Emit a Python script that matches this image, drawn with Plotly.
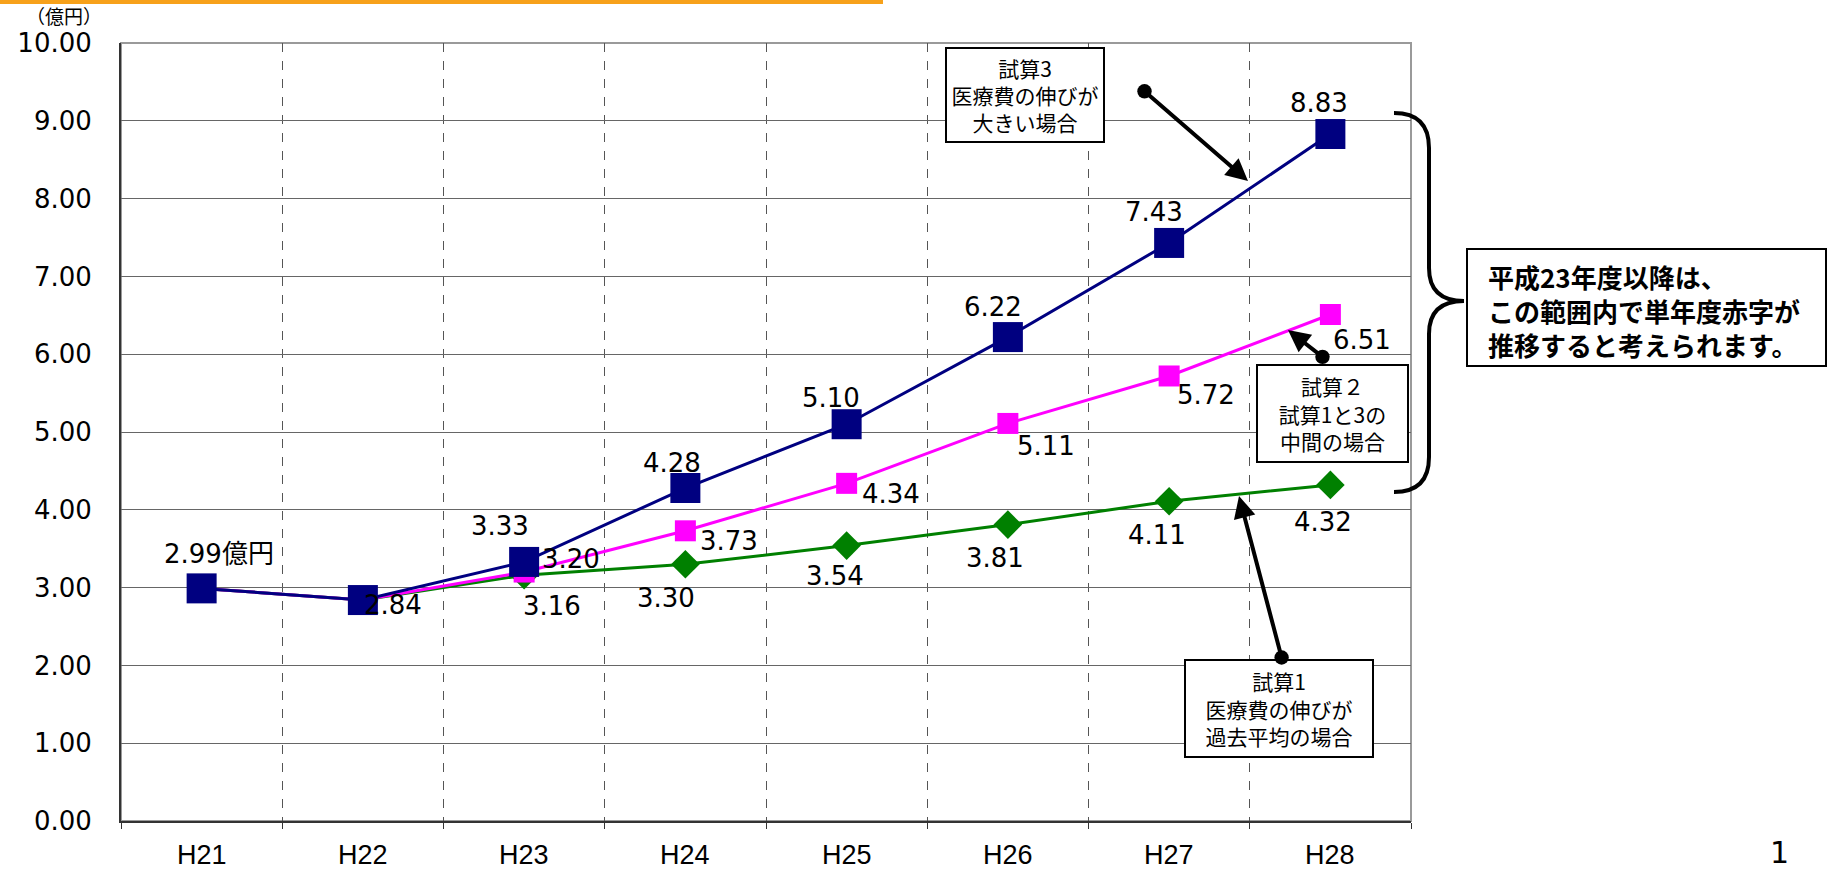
import plotly.graph_objects as go

# Fiscal years (Heisei) on the category axis
years = ["H21", "H22", "H23", "H24", "H25", "H26", "H27", "H28"]

# Single-year deficit projections (100 million yen)
case3_high = [2.99, 2.84, 3.33, 4.28, 5.10, 6.22, 7.43, 8.83]
case2_mid = [2.99, 2.84, 3.20, 3.73, 4.34, 5.11, 5.72, 6.51]
case1_avg = [2.99, 2.84, 3.16, 3.30, 3.54, 3.81, 4.11, 4.32]

# Text placed next to each point
case3_text = ["2.99億円", "2.84", "3.33", "4.28", "5.10", "6.22", "7.43", "8.83"]
case2_text = ["3.20", "3.73", "4.34", "5.11", "5.72", "6.51"]
case1_text = ["3.16", "3.30", "3.54", "3.81", "4.11", "4.32"]

JP = "Noto Sans CJK JP"
NUM = "DejaVu Sans, Noto Sans CJK JP"
NAVY, MAGENTA, GREEN = "#000080", "#FF00FF", "#008000"

# plot area in page pixels
L, R, T, B = 121, 1411, 43, 821
W, H = R - L, B - T


def px(x):
    return (x - L) / W


def py(y):
    return (B - y) / H


fig = go.Figure()
fig.add_trace(go.Scatter(x=years, y=case1_avg, mode="lines+markers",
                         line=dict(color=GREEN, width=3),
                         marker=dict(symbol="diamond", size=22, color=GREEN)))
fig.add_trace(go.Scatter(x=years, y=case2_mid, mode="lines+markers",
                         line=dict(color=MAGENTA, width=3),
                         marker=dict(symbol="square", size=21, color=MAGENTA)))
fig.add_trace(go.Scatter(x=years, y=case3_high, mode="lines+markers",
                         line=dict(color=NAVY, width=3),
                         marker=dict(symbol="square", size=30, color=NAVY)))

annotations = []

# point labels: (x shift, y shift) per point
case3_off = [(17, 34), (30, -5), (-24, 36), (-13, 25), (-16, 26), (-15, 30), (-15, 31), (-11, 31)]
case2_off = [(47, 13), (44, -10), (44, -11), (38, -23), (37, -19), (32, -25)]
case1_off = [(28, -31), (-19, -34), (-12, -30), (-13, -33), (-12, -34), (-7, -37)]
label_font = dict(size=26, color="black", family=NUM)

for i, (t, (dx, dy)) in enumerate(zip(case3_text, case3_off)):
    annotations.append(dict(x=years[i], y=case3_high[i], text=t, showarrow=False,
                            xshift=dx, yshift=dy, font=label_font))
for i, (t, (dx, dy)) in enumerate(zip(case2_text, case2_off)):
    annotations.append(dict(x=years[i + 2], y=case2_mid[i + 2], text=t, showarrow=False,
                            xshift=dx, yshift=dy, font=label_font))
for i, (t, (dx, dy)) in enumerate(zip(case1_text, case1_off)):
    annotations.append(dict(x=years[i + 2], y=case1_avg[i + 2], text=t, showarrow=False,
                            xshift=dx, yshift=dy, font=label_font))

# category names under the axis
for yr in years:
    annotations.append(dict(x=yr, xref="x", y=0, yref="paper", text=yr, showarrow=False,
                            xanchor="center", yanchor="middle", yshift=-34,
                            font=dict(size=27, family="Liberation Sans, Arial", color="black")))


def callout(cx, cy, w, h, text):
    return dict(xref="paper", yref="paper", x=px(cx), y=py(cy), text=text,
                xanchor="center", yanchor="middle",
                showarrow=False, width=w, height=h, bgcolor="white",
                bordercolor="black", borderwidth=2, borderpad=0, align="center",
                font=dict(size=21, color="black", family=JP))


annotations += [
    callout(1025, 95, 156, 92, "試算3<br>医療費の伸びが<br>大きい場合"),
    callout(1332, 413, 149, 95, "試算２<br>試算1と3の<br>中間の場合"),
    callout(1279, 708, 186, 95, "試算1<br>医療費の伸びが<br>過去平均の場合"),
    # summary note, left-aligned inside its frame (frame drawn as a shape below)
    dict(xref="paper", yref="paper", x=px(1486), y=py(311),
         xanchor="left", yanchor="middle", align="left", showarrow=False,
         text="<b>平成23年度以降は、<br>この範囲内で単年度赤字が<br>推移すると考えられます。</b>",
         font=dict(size=26, color="black", family=JP)),
]


def pointer(head, tail):
    return dict(xref="paper", yref="paper", x=px(head[0]), y=py(head[1]),
                ax=tail[0] - head[0], ay=tail[1] - head[1], text="",
                showarrow=True, arrowhead=2, arrowsize=1.1, arrowwidth=4,
                arrowcolor="black", arrowside="end+start", startarrowhead=6,
                startarrowsize=0.9)


annotations += [
    pointer((1248, 181), (1143, 90)),
    pointer((1288, 330), (1324, 358)),
    pointer((1239, 496), (1282, 659)),
]

# unit label and page number
annotations += [
    dict(xref="paper", yref="paper", x=px(64), y=py(15), text="（億円）", showarrow=False,
         xanchor="center", yanchor="middle",
         font=dict(size=19, color="black", family=JP)),
    dict(xref="paper", yref="paper", x=px(1779), y=py(852), text="1", showarrow=False,
         xanchor="center", yanchor="middle",
         font=dict(size=30, color="black", family=NUM)),
]


def brace_path():
    pts = []
    x0, xm, xt = px(1394), px(1429), px(1464)
    y_top, y_bot, y_mid = py(113), py(492), py(301)
    pts.append(f"M {x0},{y_top}")
    pts.append(f"Q {xm},{y_top} {xm},{py(148)}")
    pts.append(f"L {xm},{py(268)}")
    pts.append(f"Q {xm},{y_mid} {xt},{y_mid}")
    pts.append(f"Q {xm},{y_mid} {xm},{py(334)}")
    pts.append(f"L {xm},{py(457)}")
    pts.append(f"Q {xm},{y_bot} {x0},{y_bot}")
    return " ".join(pts)


shapes = [
    # top and right frame
    dict(type="rect", xref="paper", yref="paper", x0=0, x1=1, y0=0, y1=1,
         line=dict(color="#9a9a9a", width=2), layer="below"),
    # orange rule across the top of the page
    dict(type="rect", xref="paper", yref="paper", x0=px(0), x1=px(883), y0=py(4), y1=py(0),
         fillcolor="#F7A11A", line=dict(width=0)),
    # brace spanning the projected range
    dict(type="path", xref="paper", yref="paper", path=brace_path(),
         line=dict(color="black", width=4)),
    # frame of the summary note
    dict(type="rect", xref="paper", yref="paper", x0=px(1467), x1=px(1826),
         y0=py(366), y1=py(249), line=dict(color="black", width=2), fillcolor="white",
         layer="below"),
]

fig.update_layout(
    width=1829, height=869,
    margin=dict(l=L, r=1829 - R, t=T, b=869 - B),
    paper_bgcolor="white", plot_bgcolor="white",
    showlegend=False,
    font=dict(family=JP, color="black"),
    annotations=annotations,
    shapes=shapes,
)
fig.update_xaxes(type="category", categoryorder="array", categoryarray=years,
                 range=[-0.5, 7.5], tickson="boundaries", automargin=False,
                 showgrid=True, gridcolor="#555555", gridwidth=1, griddash="dash",
                 showline=True, linecolor="#333333", linewidth=2,
                 ticks="outside", ticklen=6, tickcolor="#333333",
                 showticklabels=False)
fig.update_yaxes(range=[0, 10], dtick=1, tickformat=".2f", automargin=False,
                 showgrid=True, gridcolor="#666666", gridwidth=1, zeroline=False,
                 showline=True, linecolor="#333333", linewidth=2,
                 ticks="", ticklabelstandoff=22,
                 tickfont=dict(size=26, family=NUM, color="black"))

fig.write_html("out.html")
